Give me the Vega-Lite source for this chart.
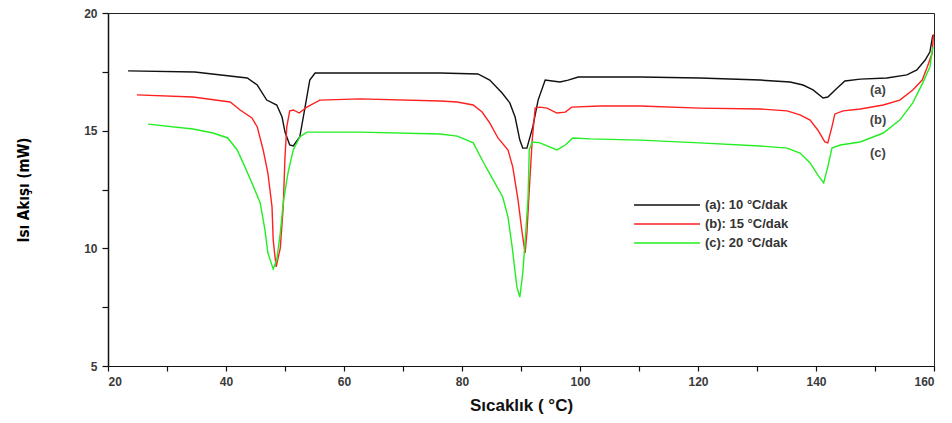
{
  "$schema": "https://vega.github.io/schema/vega-lite/v6.json",
  "width": 826,
  "height": 353,
  "autosize": "none",
  "padding": {"left": 108, "top": 13, "right": 18, "bottom": 57},
  "background": "white",
  "config": {
    "view": {"stroke": "#222", "strokeWidth": 1},
    "font": "Liberation Sans"
  },
  "datasets": {
    "curves": [
      {"s": "(a): 10  °C/dak", "t": 23.4, "q": 17.54},
      {"s": "(a): 10  °C/dak", "t": 34.7, "q": 17.49},
      {"s": "(a): 10  °C/dak", "t": 43.6, "q": 17.24},
      {"s": "(a): 10  °C/dak", "t": 45.3, "q": 16.94},
      {"s": "(a): 10  °C/dak", "t": 46.9, "q": 16.30},
      {"s": "(a): 10  °C/dak", "t": 48.6, "q": 16.09},
      {"s": "(a): 10  °C/dak", "t": 49.5, "q": 15.58},
      {"s": "(a): 10  °C/dak", "t": 50.0, "q": 14.94},
      {"s": "(a): 10  °C/dak", "t": 50.8, "q": 14.39},
      {"s": "(a): 10  °C/dak", "t": 51.4, "q": 14.35},
      {"s": "(a): 10  °C/dak", "t": 52.5, "q": 14.73},
      {"s": "(a): 10  °C/dak", "t": 53.4, "q": 16.0},
      {"s": "(a): 10  °C/dak", "t": 54.2, "q": 17.15},
      {"s": "(a): 10  °C/dak", "t": 55.1, "q": 17.45},
      {"s": "(a): 10  °C/dak", "t": 62.7, "q": 17.45},
      {"s": "(a): 10  °C/dak", "t": 76.3, "q": 17.45},
      {"s": "(a): 10  °C/dak", "t": 82.7, "q": 17.41},
      {"s": "(a): 10  °C/dak", "t": 84.7, "q": 17.15},
      {"s": "(a): 10  °C/dak", "t": 86.8, "q": 16.6},
      {"s": "(a): 10  °C/dak", "t": 88.1, "q": 16.18},
      {"s": "(a): 10  °C/dak", "t": 89.0, "q": 15.58},
      {"s": "(a): 10  °C/dak", "t": 89.8, "q": 14.6},
      {"s": "(a): 10  °C/dak", "t": 90.3, "q": 14.26},
      {"s": "(a): 10  °C/dak", "t": 91.0, "q": 14.26},
      {"s": "(a): 10  °C/dak", "t": 92.0, "q": 15.16},
      {"s": "(a): 10  °C/dak", "t": 92.9, "q": 16.3},
      {"s": "(a): 10  °C/dak", "t": 94.1, "q": 17.15},
      {"s": "(a): 10  °C/dak", "t": 95.3, "q": 17.11},
      {"s": "(a): 10  °C/dak", "t": 96.6, "q": 17.07},
      {"s": "(a): 10  °C/dak", "t": 98.0, "q": 17.15},
      {"s": "(a): 10  °C/dak", "t": 99.7, "q": 17.28},
      {"s": "(a): 10  °C/dak", "t": 110.2, "q": 17.28},
      {"s": "(a): 10  °C/dak", "t": 120.3, "q": 17.24},
      {"s": "(a): 10  °C/dak", "t": 130.5, "q": 17.15},
      {"s": "(a): 10  °C/dak", "t": 135.6, "q": 17.07},
      {"s": "(a): 10  °C/dak", "t": 137.8, "q": 16.94},
      {"s": "(a): 10  °C/dak", "t": 139.5, "q": 16.73},
      {"s": "(a): 10  °C/dak", "t": 141.2, "q": 16.39},
      {"s": "(a): 10  °C/dak", "t": 142.0, "q": 16.43},
      {"s": "(a): 10  °C/dak", "t": 143.6, "q": 16.81},
      {"s": "(a): 10  °C/dak", "t": 144.9, "q": 17.11},
      {"s": "(a): 10  °C/dak", "t": 147.5, "q": 17.19},
      {"s": "(a): 10  °C/dak", "t": 152.0, "q": 17.24},
      {"s": "(a): 10  °C/dak", "t": 155.4, "q": 17.37},
      {"s": "(a): 10  °C/dak", "t": 157.1, "q": 17.58},
      {"s": "(a): 10  °C/dak", "t": 158.5, "q": 18.0},
      {"s": "(a): 10  °C/dak", "t": 159.3, "q": 18.34},
      {"s": "(a): 10  °C/dak", "t": 159.8, "q": 19.06},
      {"s": "(b): 15  °C/dak", "t": 24.9, "q": 16.52},
      {"s": "(b): 15  °C/dak", "t": 34.4, "q": 16.43},
      {"s": "(b): 15  °C/dak", "t": 40.7, "q": 16.22},
      {"s": "(b): 15  °C/dak", "t": 42.4, "q": 15.88},
      {"s": "(b): 15  °C/dak", "t": 44.4, "q": 15.54},
      {"s": "(b): 15  °C/dak", "t": 45.3, "q": 15.16},
      {"s": "(b): 15  °C/dak", "t": 46.3, "q": 14.18},
      {"s": "(b): 15  °C/dak", "t": 47.1, "q": 13.2},
      {"s": "(b): 15  °C/dak", "t": 47.8, "q": 11.76},
      {"s": "(b): 15  °C/dak", "t": 48.0, "q": 10.35},
      {"s": "(b): 15  °C/dak", "t": 48.5, "q": 9.21},
      {"s": "(b): 15  °C/dak", "t": 49.2, "q": 10.01},
      {"s": "(b): 15  °C/dak", "t": 49.7, "q": 11.76},
      {"s": "(b): 15  °C/dak", "t": 50.0, "q": 13.88},
      {"s": "(b): 15  °C/dak", "t": 50.3, "q": 15.16},
      {"s": "(b): 15  °C/dak", "t": 50.8, "q": 15.84},
      {"s": "(b): 15  °C/dak", "t": 51.4, "q": 15.88},
      {"s": "(b): 15  °C/dak", "t": 52.4, "q": 15.75},
      {"s": "(b): 15  °C/dak", "t": 53.7, "q": 16.0},
      {"s": "(b): 15  °C/dak", "t": 55.9, "q": 16.3},
      {"s": "(b): 15  °C/dak", "t": 62.7, "q": 16.35},
      {"s": "(b): 15  °C/dak", "t": 76.3, "q": 16.26},
      {"s": "(b): 15  °C/dak", "t": 79.2, "q": 16.22},
      {"s": "(b): 15  °C/dak", "t": 81.9, "q": 16.09},
      {"s": "(b): 15  °C/dak", "t": 83.4, "q": 15.79},
      {"s": "(b): 15  °C/dak", "t": 84.7, "q": 15.33},
      {"s": "(b): 15  °C/dak", "t": 86.1, "q": 14.69},
      {"s": "(b): 15  °C/dak", "t": 87.8, "q": 14.18},
      {"s": "(b): 15  °C/dak", "t": 88.6, "q": 13.46},
      {"s": "(b): 15  °C/dak", "t": 89.5, "q": 12.05},
      {"s": "(b): 15  °C/dak", "t": 90.2, "q": 10.65},
      {"s": "(b): 15  °C/dak", "t": 90.7, "q": 9.8},
      {"s": "(b): 15  °C/dak", "t": 91.0, "q": 10.65},
      {"s": "(b): 15  °C/dak", "t": 91.4, "q": 12.48},
      {"s": "(b): 15  °C/dak", "t": 91.9, "q": 14.6},
      {"s": "(b): 15  °C/dak", "t": 92.4, "q": 15.96},
      {"s": "(b): 15  °C/dak", "t": 93.2, "q": 16.0},
      {"s": "(b): 15  °C/dak", "t": 94.4, "q": 15.96},
      {"s": "(b): 15  °C/dak", "t": 96.1, "q": 15.75},
      {"s": "(b): 15  °C/dak", "t": 97.5, "q": 15.79},
      {"s": "(b): 15  °C/dak", "t": 98.6, "q": 16.0},
      {"s": "(b): 15  °C/dak", "t": 103.4, "q": 16.05},
      {"s": "(b): 15  °C/dak", "t": 110.2, "q": 16.05},
      {"s": "(b): 15  °C/dak", "t": 120.3, "q": 15.96},
      {"s": "(b): 15  °C/dak", "t": 130.5, "q": 15.92},
      {"s": "(b): 15  °C/dak", "t": 135.1, "q": 15.84},
      {"s": "(b): 15  °C/dak", "t": 137.3, "q": 15.67},
      {"s": "(b): 15  °C/dak", "t": 139.0, "q": 15.45},
      {"s": "(b): 15  °C/dak", "t": 140.3, "q": 15.03},
      {"s": "(b): 15  °C/dak", "t": 141.5, "q": 14.52},
      {"s": "(b): 15  °C/dak", "t": 142.0, "q": 14.48},
      {"s": "(b): 15  °C/dak", "t": 142.7, "q": 15.16},
      {"s": "(b): 15  °C/dak", "t": 143.2, "q": 15.71},
      {"s": "(b): 15  °C/dak", "t": 144.6, "q": 15.84},
      {"s": "(b): 15  °C/dak", "t": 147.5, "q": 15.92},
      {"s": "(b): 15  °C/dak", "t": 151.4, "q": 16.09},
      {"s": "(b): 15  °C/dak", "t": 154.2, "q": 16.3},
      {"s": "(b): 15  °C/dak", "t": 156.4, "q": 16.73},
      {"s": "(b): 15  °C/dak", "t": 158.0, "q": 17.15},
      {"s": "(b): 15  °C/dak", "t": 158.8, "q": 17.66},
      {"s": "(b): 15  °C/dak", "t": 159.7, "q": 18.3},
      {"s": "(b): 15  °C/dak", "t": 159.9, "q": 19.1},
      {"s": "(c): 20  °C/dak", "t": 26.8, "q": 15.28},
      {"s": "(c): 20  °C/dak", "t": 34.4, "q": 15.07},
      {"s": "(c): 20  °C/dak", "t": 37.8, "q": 14.9},
      {"s": "(c): 20  °C/dak", "t": 40.3, "q": 14.69},
      {"s": "(c): 20  °C/dak", "t": 41.9, "q": 14.18},
      {"s": "(c): 20  °C/dak", "t": 42.9, "q": 13.63},
      {"s": "(c): 20  °C/dak", "t": 44.4, "q": 12.78},
      {"s": "(c): 20  °C/dak", "t": 45.8, "q": 11.93},
      {"s": "(c): 20  °C/dak", "t": 46.6, "q": 10.78},
      {"s": "(c): 20  °C/dak", "t": 47.1, "q": 9.8},
      {"s": "(c): 20  °C/dak", "t": 48.0, "q": 9.12},
      {"s": "(c): 20  °C/dak", "t": 48.6, "q": 9.5},
      {"s": "(c): 20  °C/dak", "t": 49.2, "q": 10.65},
      {"s": "(c): 20  °C/dak", "t": 49.7, "q": 11.93},
      {"s": "(c): 20  °C/dak", "t": 50.5, "q": 13.2},
      {"s": "(c): 20  °C/dak", "t": 51.4, "q": 14.18},
      {"s": "(c): 20  °C/dak", "t": 52.5, "q": 14.73},
      {"s": "(c): 20  °C/dak", "t": 53.7, "q": 14.94},
      {"s": "(c): 20  °C/dak", "t": 62.7, "q": 14.94},
      {"s": "(c): 20  °C/dak", "t": 76.3, "q": 14.86},
      {"s": "(c): 20  °C/dak", "t": 79.2, "q": 14.77},
      {"s": "(c): 20  °C/dak", "t": 81.9, "q": 14.48},
      {"s": "(c): 20  °C/dak", "t": 83.6, "q": 13.67},
      {"s": "(c): 20  °C/dak", "t": 85.3, "q": 12.9},
      {"s": "(c): 20  °C/dak", "t": 86.9, "q": 12.18},
      {"s": "(c): 20  °C/dak", "t": 87.8, "q": 11.33},
      {"s": "(c): 20  °C/dak", "t": 88.5, "q": 10.06},
      {"s": "(c): 20  °C/dak", "t": 89.3, "q": 8.36},
      {"s": "(c): 20  °C/dak", "t": 89.8, "q": 7.93},
      {"s": "(c): 20  °C/dak", "t": 90.3, "q": 8.95},
      {"s": "(c): 20  °C/dak", "t": 90.8, "q": 10.65},
      {"s": "(c): 20  °C/dak", "t": 91.2, "q": 12.18},
      {"s": "(c): 20  °C/dak", "t": 91.4, "q": 14.18},
      {"s": "(c): 20  °C/dak", "t": 91.9, "q": 14.52},
      {"s": "(c): 20  °C/dak", "t": 93.2, "q": 14.48},
      {"s": "(c): 20  °C/dak", "t": 96.1, "q": 14.18},
      {"s": "(c): 20  °C/dak", "t": 97.5, "q": 14.39},
      {"s": "(c): 20  °C/dak", "t": 98.8, "q": 14.69},
      {"s": "(c): 20  °C/dak", "t": 101.7, "q": 14.65},
      {"s": "(c): 20  °C/dak", "t": 110.2, "q": 14.6},
      {"s": "(c): 20  °C/dak", "t": 120.3, "q": 14.48},
      {"s": "(c): 20  °C/dak", "t": 130.5, "q": 14.35},
      {"s": "(c): 20  °C/dak", "t": 135.1, "q": 14.26},
      {"s": "(c): 20  °C/dak", "t": 137.3, "q": 14.05},
      {"s": "(c): 20  °C/dak", "t": 139.0, "q": 13.63},
      {"s": "(c): 20  °C/dak", "t": 140.3, "q": 13.12},
      {"s": "(c): 20  °C/dak", "t": 141.3, "q": 12.78},
      {"s": "(c): 20  °C/dak", "t": 142.0, "q": 13.46},
      {"s": "(c): 20  °C/dak", "t": 142.7, "q": 14.26},
      {"s": "(c): 20  °C/dak", "t": 144.1, "q": 14.39},
      {"s": "(c): 20  °C/dak", "t": 147.5, "q": 14.52},
      {"s": "(c): 20  °C/dak", "t": 151.4, "q": 14.9},
      {"s": "(c): 20  °C/dak", "t": 154.2, "q": 15.45},
      {"s": "(c): 20  °C/dak", "t": 156.4, "q": 16.18},
      {"s": "(c): 20  °C/dak", "t": 158.1, "q": 17.03},
      {"s": "(c): 20  °C/dak", "t": 159.3, "q": 17.7},
      {"s": "(c): 20  °C/dak", "t": 159.8, "q": 18.55}
    ],
    "tags": [
      {"t": 150.5, "q": 16.73, "label": "(a)"},
      {"t": 150.5, "q": 15.45, "label": "(b)"},
      {"t": 150.5, "q": 14.05, "label": "(c)"}
    ]
  },
  "layer": [
    {
      "data": {"name": "curves"},
      "mark": {"type": "line", "strokeWidth": 1.4, "interpolate": "linear"},
      "encoding": {
        "x": {
          "field": "t", "type": "quantitative",
          "scale": {"domain": [20, 160], "nice": false, "zero": false},
          "axis": {
            "title": "Sıcaklık ( °C)",
            "titleFont": "Liberation Sans", "titleFontSize": 17, "titleFontWeight": "bold", "titleColor": "#111",
            "titlePadding": 10,
            "values": [20, 30, 40, 50, 60, 70, 80, 90, 100, 110, 120, 130, 140, 150, 160],
            "labelExpr": "datum.value % 20 == 0 ? datum.label : ''",
            "labelFont": "Liberation Sans", "labelFontSize": 12, "labelFontWeight": "bold", "labelColor": "#3a3a3a",
            "labelPadding": 5,
            "tickSize": 5, "tickColor": "#111", "tickWidth": 1.2,
            "domainColor": "#111", "domainWidth": 1.2, "grid": false
          }
        },
        "y": {
          "field": "q", "type": "quantitative",
          "scale": {"domain": [5, 20], "nice": false, "zero": false},
          "axis": {
            "title": "Isı Akışı (mW)",
            "titleFont": "DejaVu Sans Condensed, Liberation Sans", "titleFontSize": 15, "titleFontWeight": "bold", "titleColor": "#000",
            "titlePadding": 52,
            "values": [5, 7.5, 10, 12.5, 15, 17.5, 20],
            "labelExpr": "datum.value % 5 == 0 ? datum.label : ''",
            "labelFont": "Liberation Sans", "labelFontSize": 12, "labelFontWeight": "bold", "labelColor": "#3a3a3a",
            "labelPadding": 5,
            "tickSize": 6, "tickColor": "#111", "tickWidth": 1.2,
            "domainColor": "#111", "domainWidth": 1.5, "grid": false
          }
        },
        "color": {
          "field": "s", "type": "nominal",
          "scale": {"domain": ["(a): 10  °C/dak", "(b): 15  °C/dak", "(c): 20  °C/dak"], "range": ["#111111", "#ff2020", "#22ee22"]},
          "legend": {
            "title": null,
            "orient": "none",
            "legendX": 548,
            "legendY": 181,
            "symbolType": "M-3.3,0L3.3,0",
            "symbolSize": 400,
            "symbolStrokeWidth": 1.4,
            "symbolFillColor": "transparent",
            "labelFont": "Liberation Sans", "labelFontSize": 13, "labelFontWeight": "bold", "labelColor": "#333",
            "labelOffset": 27,
            "rowPadding": 1
          }
        }
      }
    },
    {
      "data": {"name": "tags"},
      "mark": {"type": "text", "font": "Liberation Sans", "fontSize": 13, "fontWeight": "bold", "color": "#444", "align": "center", "baseline": "middle"},
      "encoding": {
        "x": {"field": "t", "type": "quantitative"},
        "y": {"field": "q", "type": "quantitative"},
        "text": {"field": "label"}
      }
    }
  ]
}
